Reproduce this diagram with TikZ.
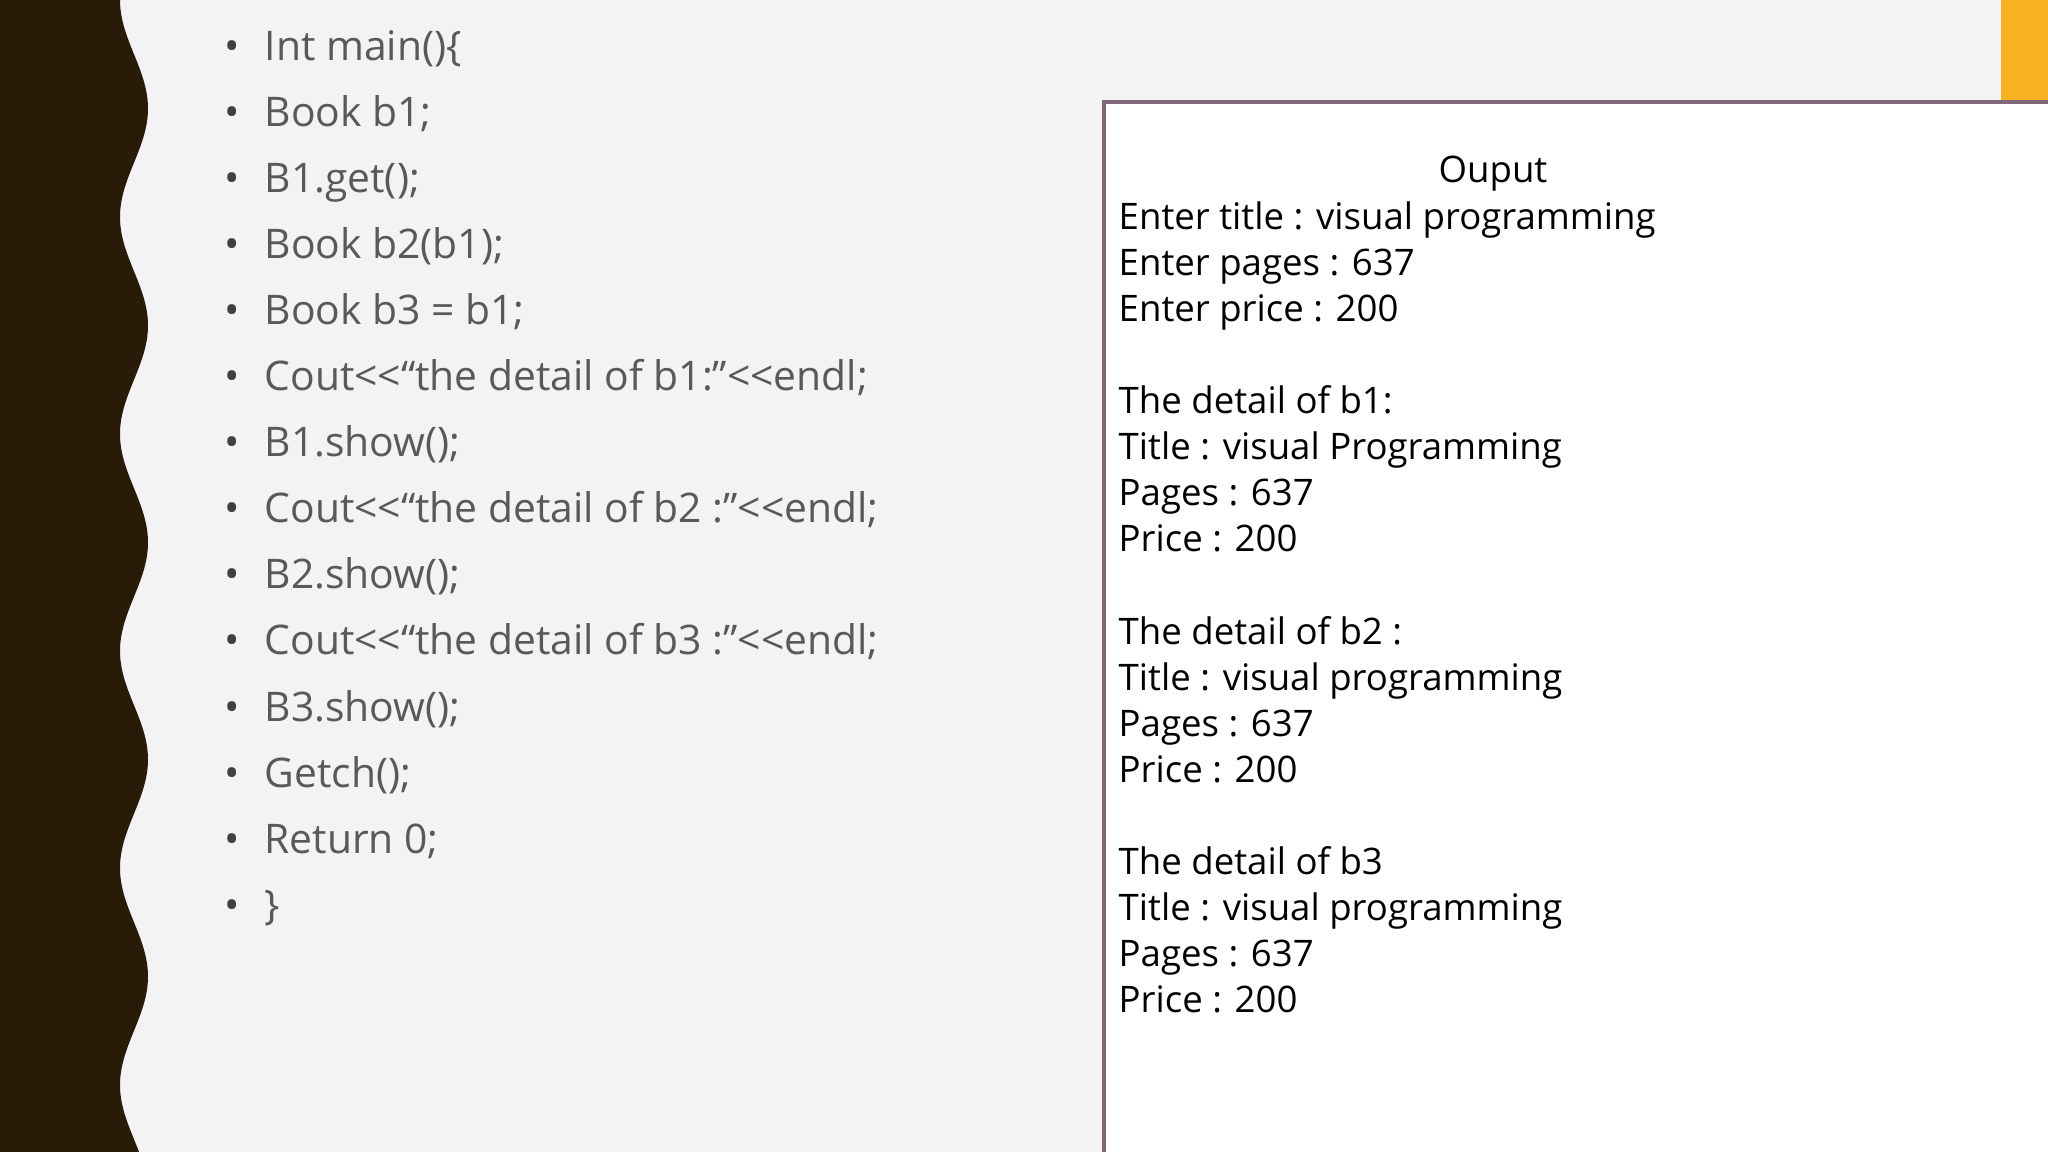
\documentclass[tikz,border=0pt]{standalone}
\usepackage{fontspec}
\setmainfont{Open Sans}
\begin{document}
\begin{tikzpicture}[x=0.01cm,y=-0.01cm,
  code/.style={anchor=base west,inner sep=0,font=\fontsize{11.6pt}{14pt}\selectfont,text=black!65},
  bul/.style={anchor=base,inner sep=0,font=\fontsize{11.6pt}{14pt}\selectfont,text=black!75},
  outtxt/.style={anchor=base west,inner sep=0,font=\fontsize{10.4pt}{12pt}\selectfont,text=black}]
\definecolor{bg}{HTML}{F3F2F4}
\definecolor{band}{HTML}{2A1A08}
\definecolor{orng}{HTML}{F9B224}
\definecolor{frame}{HTML}{806878}
\useasboundingbox (0,0) rectangle (2048,1152);
\fill[bg] (0,0) rectangle (2048,1152);
\fill[band] (0,0) -- plot[domain=0:1152,samples=200,smooth] ({134-14*cos(\x/217*360)},\x) -- (0,1152) -- cycle;
\fill[orng] (2001,0) rectangle (2048,1152);
\node[draw=frame,line width=1.2pt,fill=white,minimum width=784,minimum height=987,anchor=north west,inner sep=0] (box) at (1102,100) {};
\foreach \t [count=\i from 0] in {Int main()\{,Book b1;,B1.get();,Book b2(b1);,Book b3 = b1;,Cout<{}<“the detail of b1:”<{}<endl;,B1.show();,Cout<{}<“the detail of b2 :”<{}<endl;,B2.show();,Cout<{}<“the detail of b3 :”<{}<endl;,B3.show();,Getch();,Return 0;,\}} {
  \node[bul] (b\i) at (232,{61+66*\i}) {•};
  \node[code] (c\i) at (264,{61+66*\i}) {\t};
}
\node[anchor=base,inner sep=0,font=\fontsize{10.4pt}{12pt}\selectfont] (ttl) at (1493,183) {Ouput};
\foreach \t/\i in {Enter title : visual programming/1,Enter pages : 637/2,Enter price : 200/3,
  The detail of b1:/5,Title : visual Programming/6,Pages : 637/7,Price : 200/8,
  The detail of b2 :/10,Title : visual programming/11,Pages : 637/12,Price : 200/13,
  The detail of b3/15,Title : visual programming/16,Pages : 637/17,Price : 200/18} {
  \node[outtxt] (o\i) at (1118,{183+46.1*\i}) {\t};
}
\end{tikzpicture}
\end{document}
